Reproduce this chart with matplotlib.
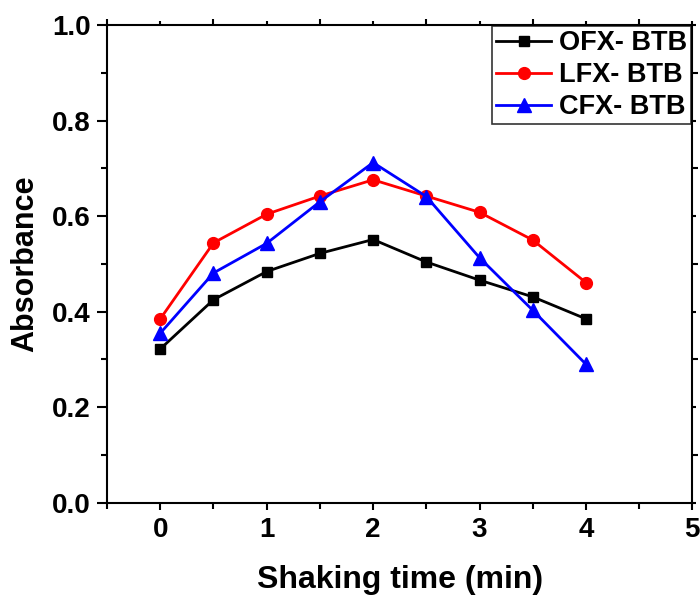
import numpy as np
import matplotlib.pyplot as plt
from matplotlib.ticker import MultipleLocator

plt.rcParams['font.family'] = ['Liberation Sans', 'DejaVu Sans']
plt.rcParams['font.weight'] = 'bold'

time_min = [0, 0.5, 1, 1.5, 2, 2.5, 3, 3.5, 4]
ofx_btb = [0.322, 0.425, 0.484, 0.522, 0.551, 0.504, 0.466, 0.431, 0.385]
lfx_btb = [0.385, 0.544, 0.604, 0.642, 0.676, 0.642, 0.608, 0.550, 0.461]
cfx_btb = [0.355, 0.481, 0.543, 0.630, 0.712, 0.641, 0.513, 0.403, 0.290]

fig = plt.figure(figsize=(7, 5.95), dpi=100)
ax = fig.add_axes([0.153, 0.155, 0.836, 0.803])

ax.plot(time_min, ofx_btb, color='black', marker='s', ms=7.5, lw=2, label='OFX- BTB')
ax.plot(time_min, lfx_btb, color='red', marker='o', ms=8.5, lw=2, label='LFX- BTB')
ax.plot(time_min, cfx_btb, color='blue', marker='^', ms=10, lw=2, label='CFX- BTB')

ax.set_xlim(-0.5, 5)
ax.set_ylim(0, 1.0)
ax.xaxis.set_major_locator(MultipleLocator(1))
ax.xaxis.set_minor_locator(MultipleLocator(0.5))
ax.yaxis.set_major_locator(MultipleLocator(0.2))
ax.yaxis.set_minor_locator(MultipleLocator(0.1))
ax.yaxis.set_major_formatter(plt.FormatStrFormatter('%.1f'))

for s in ax.spines.values():
    s.set_linewidth(1.5)
ax.tick_params(which='major', direction='out', length=7, width=1.5, labelsize=20, pad=5)
ax.tick_params(which='minor', direction='out', length=4, width=1.5)
ax.tick_params(axis='x', which='major', length=5)
ax.tick_params(which='both', top=True, right=True)
for t in ax.xaxis.get_major_ticks() + ax.yaxis.get_major_ticks():
    t.tick2line.set_markersize(3)

ax.set_xlabel('Shaking time (min)', fontsize=23, fontweight='bold', labelpad=16)
ax.set_ylabel('Absorbance', fontsize=22, fontweight='bold', labelpad=8)

leg = ax.legend(loc='upper right', fontsize=19.5, frameon=True, fancybox=False,
                borderpad=0.15, handlelength=2.0, handletextpad=0.3,
                labelspacing=0.22, borderaxespad=0.05)
leg.get_frame().set_edgecolor('black')
leg.get_frame().set_linewidth(1.2)
for txt in leg.get_texts():
    txt.set_fontweight('bold')

fig.savefig('out.png', dpi=100)
